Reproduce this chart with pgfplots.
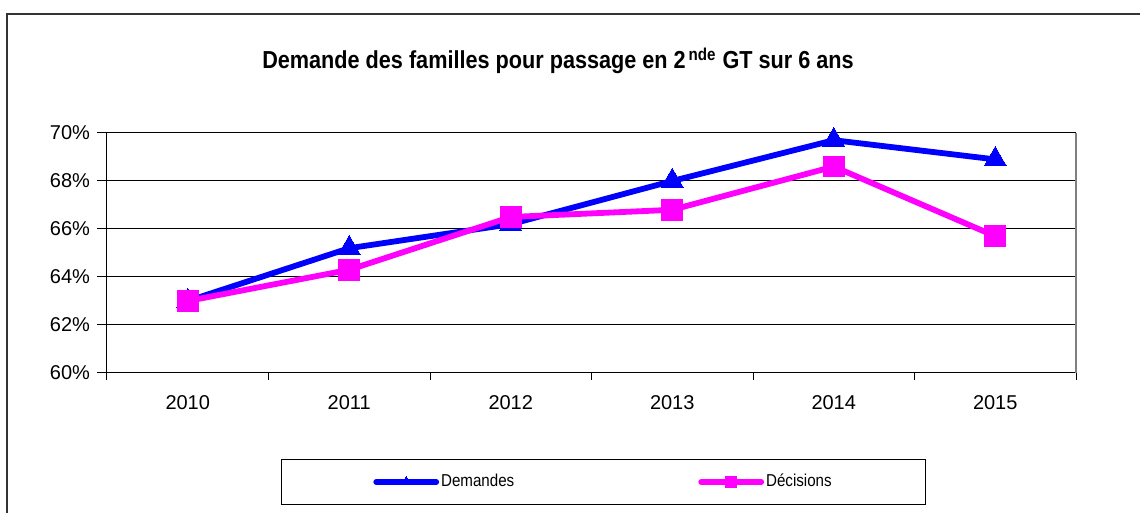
\documentclass[border=0pt]{standalone}
\usepackage{fontspec}
\setmainfont{Liberation Sans}
\usepackage{pgfplots}
\pgfplotsset{compat=1.18}

\definecolor{demBlue}{RGB}{0,0,255}
\definecolor{decMag}{RGB}{255,0,255}

\begin{document}
\begin{tikzpicture}
  % 1 px of the reference = 0.5pt
  \useasboundingbox (0,0) rectangle (570pt,256.5pt);
  \draw[line width=1pt, black!80] (3.5pt,-10pt) -- (3.5pt,249.5pt) -- (580pt,249.5pt);
  \node[anchor=base, font=\fontsize{12.3pt}{14pt}\selectfont\bfseries\addfontfeature{FakeStretch=0.88}]
    at (279pt,222pt) {Demande des familles pour passage en 2\textsuperscript{\,nde} GT sur 6 ans};
  \begin{axis}[at={(53.5pt,70pt)}, anchor=south west, scale only axis,
      width=484.5pt, height=120pt,
      xmin=-0.5, xmax=5.5, ymin=60, ymax=70,
      xtick={0,1,2,3,4,5}, xticklabels={2010,2011,2012,2013,2014,2015},
      minor xtick={-0.5,0.5,1.5,2.5,3.5,4.5,5.5},
      ytick={60,62,64,66,68,70},
      yticklabel={\pgfmathprintnumber{\tick}\%},
      axis x line*=bottom, axis y line*=left,
      tick align=outside, major tick length=5pt, minor tick length=3.5pt,
      major x tick style={draw=none},
      minor x tick style={black, line width=0.5pt},
      tick style={black, line width=0.5pt},
      ymajorgrids, major grid style={black, line width=0.5pt},
      axis line style={black, line width=0.5pt},
      ticklabel style={font=\fontsize{10pt}{12pt}\selectfont},
      /pgf/number format/assume math mode=true,
      xticklabel style={yshift=-2.7pt},
      clip=false,
      legend columns=2,
      legend style={at={(0.5124,-0.4542)}, anchor=center, draw=black, line width=0.5pt,
        inner xsep=46pt, inner ysep=7.5pt,
        font=\fontsize{8.6pt}{10pt}\selectfont\addfontfeature{FakeStretch=0.88},
        nodes={inner xsep=1pt, inner ysep=0pt},
        /tikz/every even column/.append style={column sep=91pt}},
      legend image code/.code={\draw[mark repeat=2, mark phase=2, #1, mark size=2.8pt, line cap=round]
        plot coordinates {(0pt,0pt) (15pt,0pt) (30pt,0pt)};},
    ]
    \addplot[demBlue, line width=2.9pt, mark=triangle*, mark size=6.4pt,
      mark options={solid, line width=0pt}]
      coordinates {(0,63.0) (1,65.2) (2,66.2) (3,68.0) (4,69.7) (5,68.9)};
    \addlegendentry{Demandes}
    \addplot[decMag, line width=2.9pt, mark=square*, mark size=5.2pt,
      mark options={solid, line width=0pt}]
      coordinates {(0,63.0) (1,64.3) (2,66.5) (3,66.8) (4,68.6) (5,65.7)};
    \addlegendentry{Décisions}
    \draw[gray, line width=0.9pt] (rel axis cs:1,0) -- (rel axis cs:1,1);
  \end{axis}
\end{tikzpicture}
\end{document}
